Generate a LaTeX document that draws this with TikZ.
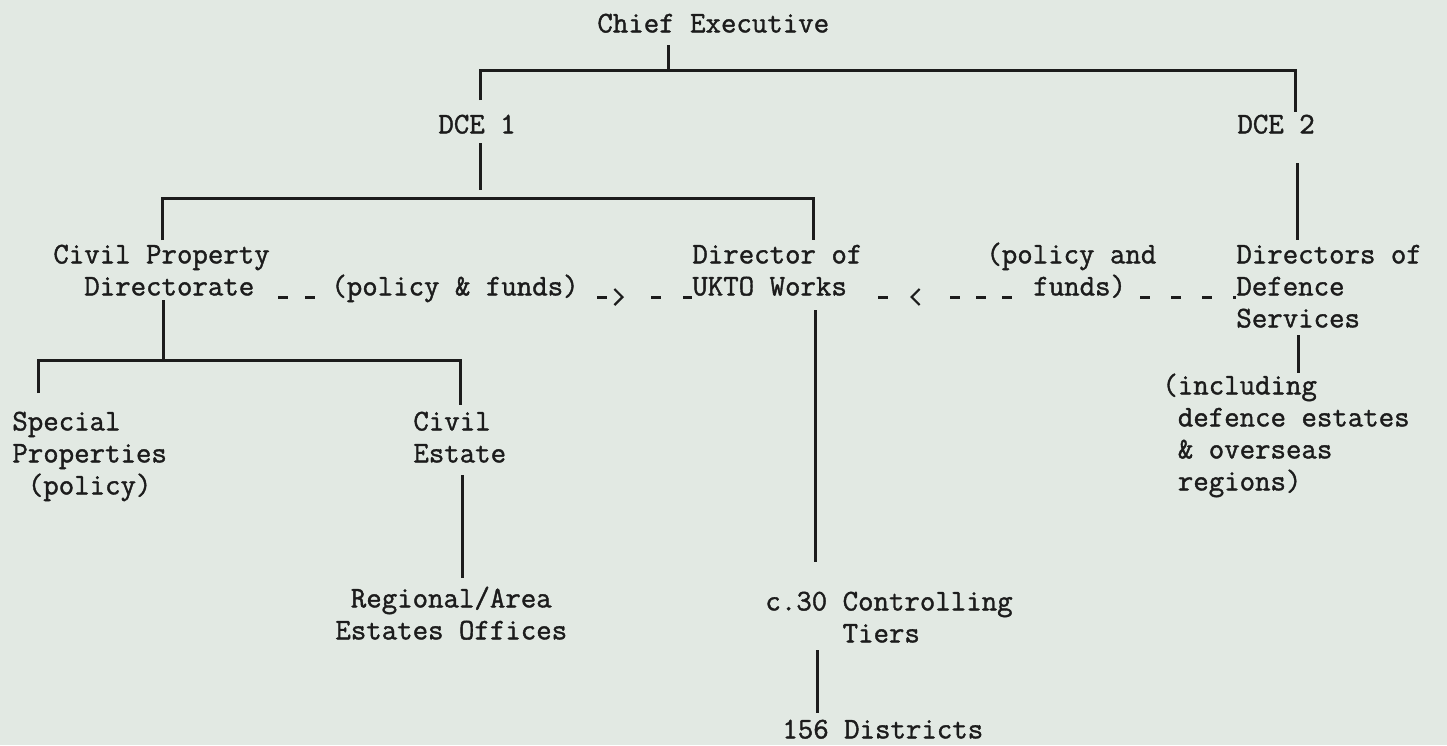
\documentclass[tikz,border=0pt]{standalone}
\usepackage{fontspec}
\newfontfamily\typew{Latin Modern Mono}[BoldFont={Latin Modern Mono},BoldFeatures={FakeBold=1.3}]
\usetikzlibrary{arrows.meta,decorations.markings}
\definecolor{paper}{RGB}{226,233,227}
\definecolor{ink}{RGB}{28,28,28}
\newcommand{\st}{\rule{0pt}{12pt}}
\tikzset{
  txt/.style={anchor=north west, inner sep=0pt, align=left,
    font=\typew\bfseries\fontsize{15}{16}\selectfont, text=ink},
  conn/.style={draw=ink, line width=1.5pt},
  dashconn/.style={draw=ink, line width=1.5pt},
  chev/.tip={Straight Barb[length=4pt, width=8pt, line width=1.1pt]}
}
\begin{document}
\begin{tikzpicture}[x=0.5pt, y=-0.5pt]
\fill[paper] (0,0) rectangle (1447,745);
\useasboundingbox (0,0) rectangle (1447,745);

% text nodes (left edge, baseline - 24)
\node[txt] (ce)   at (597,8)   {\st Chief Executive};
\node[txt] (dce1) at (438,109) {\st DCE 1};
\node[txt] (dce2) at (1237,109) {\st DCE 2};
\node[txt] (cpd)  at (53,239)  {\st Civil Property\\\hphantom{xx}Directorate};
\node[txt] (ukto) at (692,239) {\st Director of\\UKTO Works};
\node[txt] (dds)  at (1236,239) {\st Directors of\\Defence\\Services};
\node[txt] (incl) at (1162,370) {\st(including\\\hphantom{x}defence estates\\\hphantom{x}\& overseas\\\hphantom{x}regions)};
\node[txt] (sp)   at (12,406)  {\st Special\\Properties\\\hphantom{x}(policy)};
\node[txt] (cest) at (413,406) {\st Civil\\Estate};
\node[txt] (reo)  at (335,583) {\st\hphantom{x}Regional/Area\\Estates Offices};
\node[txt] (ct)   at (765,586) {\st c.30 Controlling\\\hphantom{xxxxx}Tiers};
\node[txt] (dist) at (782,714) {\st 156 Districts};
\node[txt, fill=paper] (pf1) at (331,271) {\st(policy \& funds)};
\node[txt, fill=paper] (pf2) at (986,239) {\st(policy and\\\hphantom{xx}\kern 8pt funds)};

% connector end points
\coordinate (a0) at (668,45);   \coordinate (a1) at (668,70);
\coordinate (b0) at (480,100);  \coordinate (b1) at (1295,112);
\coordinate (c0) at (480,143);  \coordinate (c1) at (480,190);
\coordinate (d0) at (162,240);  \coordinate (d1) at (813,240); \coordinate (dy) at (480,198);
\coordinate (e0) at (1297,163); \coordinate (e1) at (1297,240);
\coordinate (f0) at (163,300);  \coordinate (f1) at (163,360);
\coordinate (g0) at (38,393);   \coordinate (g1) at (460,405);
\coordinate (h0) at (462,475);  \coordinate (h1) at (462,578);
\coordinate (k0) at (815,310);  \coordinate (k1) at (815,562);
\coordinate (m0) at (817,650);  \coordinate (m1) at (817,713);
\coordinate (n0) at (1298,335); \coordinate (n1) at (1298,373);

% solid connectors
\draw[conn] (a0) -- (a1);
\draw[conn] (b0) -- (b0|-a1) -- (b1|-a1) -- (b1);
\draw[conn] (c0) -- (c1);
\draw[conn] (d0) -- (d0|-dy) -- (d1|-dy) -- (d1);
\draw[conn] (e0) -- (e1);
\draw[conn] (f0) -- (f1);
\draw[conn] (g0) -- (g0|-f1) -- (g1|-f1) -- (g1);
\draw[conn] (h0) -- (h1);
\draw[conn] (k0) -- (k1);
\draw[conn] (m0) -- (m1);
\draw[conn] (n0) -- (n1);

% dashed policy & funds connectors
\coordinate (l0) at (278,297); \coordinate (l2) at (597,297); \coordinate (l1) at (692,297);
\draw[dashconn, dash pattern=on 5pt off 8.5pt] (l0) -- (pf1.west|-l0);
\draw[dashconn, dash pattern=on 5pt off 22pt on 5pt off 11pt,
  postaction={decorate}, decoration={markings, mark=at position 13.5pt with {\arrow{chev}}}]
  (l2) -- (l1);
\coordinate (r0) at (878,297); \coordinate (r1) at (1012,297);
\coordinate (r2) at (1140,297); \coordinate (r3) at (1236,297);
\draw[dashconn, dash pattern=on 5pt off 31pt on 5pt off 8pt on 5pt off 8pt,
  postaction={decorate}, decoration={markings, mark=at position 16pt with {\arrowreversed{chev}}}]
  (r0) -- (r1);
\draw[dashconn, dash pattern=on 5pt off 10.5pt] (r2) -- (r3);
\end{tikzpicture}
\end{document}
